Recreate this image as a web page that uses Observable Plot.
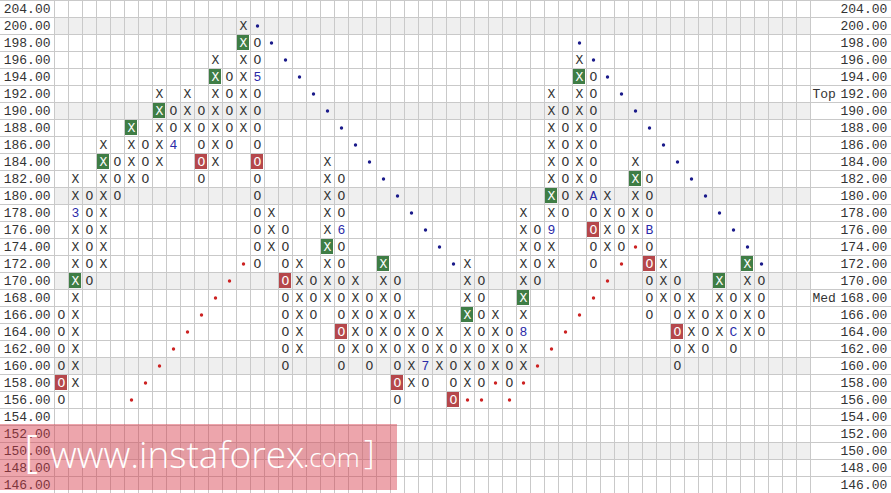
<!DOCTYPE html>
<html><head><meta charset="utf-8">
<script src="https://cdn.jsdelivr.net/npm/d3@7"></script>
<script src="https://cdn.jsdelivr.net/npm/@observablehq/plot@0.6"></script>
<style>
body{margin:0;background:#fff;}
#wrap{position:relative;width:891px;height:493px;overflow:hidden;}
#wm{position:absolute;left:0;top:424px;width:397px;height:66px;background:rgba(215,55,70,0.45);color:#fff;font-family:"Open Sans",sans-serif;font-weight:300;white-space:nowrap;}
#wm span{position:absolute;}
</style></head><body>
<div id="wrap"><div id="chart"></div>
<div id="wm"><span style="left:24px;top:-4px;font-size:44px;">[</span><span style="left:50px;top:4px;font-size:37px;">www.instaforex</span><span style="left:303px;top:15px;font-size:26px;">.com</span><span style="left:364px;top:5px;font-size:33px;">]</span></div>
</div>
<script>
const rowLabels = ["204.00","200.00","198.00","196.00","194.00","192.00","190.00","188.00","186.00","184.00","182.00","180.00","178.00","176.00","174.00","172.00","170.00","168.00","166.00","164.00","162.00","160.00","158.00","156.00","154.00","152.00","150.00","148.00","146.00"];
const shadedRows = ["200.00","190.00","180.00","170.00","160.00","150.00"];
const sideNotes = ["Top","Med"];
const sideNoteRows = ["192.00","168.00"];

// point & figure columns
const colType = ["O","X","O","X","O","X","O","X","O","X","O","X","O","X","O","X","O","X","O","X","O","X","O","X","O","X","O","X","O","X","O","X","O","X","O","X","O","X","O","X","O","X","O","X","O","X","O","X","O","X","O"];
const colLow  = [156,158,170,172,180,182,182,184,186,188,182,184,186,188,172,174,160,162,166,168,160,162,160,162,156,158,158,160,156,158,158,160,158,160,170,172,178,180,172,174,174,176,166,168,160,162,162,164,162,164,164];
const colHigh = [166,182,180,186,184,188,186,192,190,192,190,196,194,200,198,178,176,172,170,184,182,170,168,172,170,166,164,164,162,172,170,166,164,178,176,192,190,196,194,180,178,184,182,172,170,168,166,170,168,172,170];

const greenCols   = [1,3,5,7,11,13,19,23,29,33,35,37,41,47,49];
const greenPrices = [170,184,188,190,194,198,174,172,166,168,180,194,182,170,172];
const redCols     = [0,10,14,16,20,24,28,38,42,44];
const redPrices   = [158,184,184,170,164,158,156,176,172,164];

const monthCols   = [1,8,14,20,26,33,35,38,42,48];
const monthPrices = [178,186,194,176,160,164,176,180,176,164];
const monthLabels = ["3","4","5","6","7","8","9","A","B","C"];

const blueDotCols   = [14,15,16,17,18,19,20,21,22,23,24,25,26,27,28, 37,38,39,40,41,42,43,44,45,46,47,48,49,50];
const blueDotPrices = [200,198,196,194,192,190,188,186,184,182,180,178,176,174,172, 198,196,194,192,190,188,186,184,182,180,178,176,174,172];
const redDotCols    = [5,6,7,8,9,10,11,12,13, 29,30,31,32,33,34,35,36,37,38,39,40,41];
const redDotPrices  = [156,158,160,162,164,166,168,170,172, 156,156,158,156,158,160,162,164,166,168,170,172,174];

const NCOL = 54;
const row = p => rowLabels.indexOf((+p).toFixed(2));
const key = (c,p) => c + "_" + p;
const greenSet = new Set(greenCols.map((c,i)=>key(c,greenPrices[i])));
const redSet = new Set(redCols.map((c,i)=>key(c,redPrices[i])));
const monthMap = new Map(monthCols.map((c,i)=>[key(c,monthPrices[i]), monthLabels[i]]));

const cells = [];
colType.forEach((t,c)=>{
  for (let p = colLow[c]; p <= colHigh[c]; p += 2) {
    const k = key(c,p);
    if (monthMap.has(k)) cells.push({c,p,t:monthMap.get(k),kind:"m"});
    else cells.push({c,p,t,kind: greenSet.has(k)||redSet.has(k) ? "b" : "n"});
  }
});
const boxes = [
  ...greenCols.map((c,i)=>({c,p:greenPrices[i],f:"#3f7d45"})),
  ...redCols.map((c,i)=>({c,p:redPrices[i],f:"#b5474b"}))
];
const blueDots = blueDotCols.map((c,i)=>({c,p:blueDotPrices[i]}));
const redDots = redDotCols.map((c,i)=>({c,p:redDotPrices[i]}));
const FONT = "Liberation Mono, DejaVu Sans Mono, monospace";

const chart = Plot.plot({
  width: 891, height: 493, margin: 0,
  x: {domain: [0, NCOL], range: [54, 810], axis: null},
  y: {domain: [0, rowLabels.length], range: [0, 493], axis: null},
  style: {background: "#fff"},
  marks: [
    Plot.rect(shadedRows, {x1: 0, x2: NCOL, y1: d=>row(d), y2: d=>row(d)+1, fill: "#efefef"}),
    Plot.ruleY(d3.range(rowLabels.length + 1), {stroke: "#c9c9c9"}),
    Plot.ruleX(d3.range(NCOL + 1), {stroke: "#c9c9c9"}),
    Plot.rect(boxes, {x1: d=>d.c, x2: d=>d.c+1, y1: d=>row(d.p), y2: d=>row(d.p)+1, fill: d=>d.f, inset: 1}),
    Plot.dot(blueDots, {x: d=>d.c+0.5, y: d=>row(d.p)+0.5, r: 1.7, fill: "#1a1a8a", stroke: null}),
    Plot.dot(redDots, {x: d=>d.c+0.5, y: d=>row(d.p)+0.5, r: 1.7, fill: "#cc2222", stroke: null}),
    Plot.text(cells, {x: d=>d.c+0.5, y: d=>row(d.p)+0.5, text: "t", fontFamily: FONT, fontSize: 13,
      fill: d=> d.kind==="b" ? "#ffffff" : d.kind==="m" ? "#2a2aa8" : "#333333"}),
    Plot.text(rowLabels, {x: 0, y: (d,i)=>i+0.5, text: d=>d, textAnchor: "end", dx: -4, fontFamily: FONT, fontSize: 13, fill: "#333"}),
    Plot.text(rowLabels, {x: NCOL, y: (d,i)=>i+0.5, text: d=>d, textAnchor: "start", dx: 30, fontFamily: FONT, fontSize: 13, fill: "#333"}),
    Plot.text(sideNotes, {x: NCOL, y: (d,i)=>row(sideNoteRows[i])+0.5, text: d=>d, textAnchor: "start", dx: 2, fontFamily: FONT, fontSize: 13, fill: "#333"})
  ]
});
document.getElementById("chart").appendChild(chart);
</script>
</body></html>
